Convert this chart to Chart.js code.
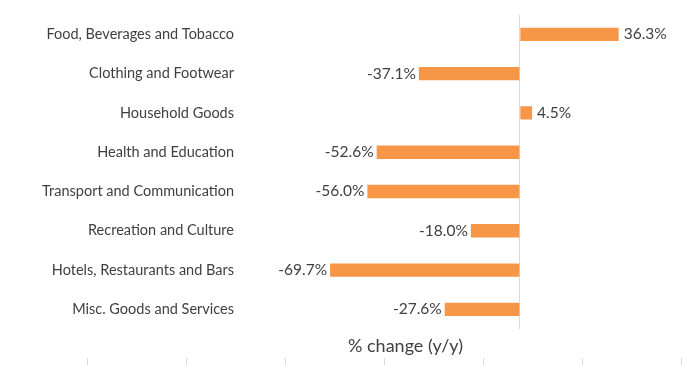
<!DOCTYPE html>
<html>
<head>
<meta charset="utf-8">
<script src="https://cdn.jsdelivr.net/npm/chart.js@4/dist/chart.umd.min.js"></script>
<style>
  html, body { margin: 0; padding: 0; background: #fff; }
  #wrap { width: 683px; height: 365px; }
</style>
</head>
<body>
<div id="wrap"><canvas id="chart" width="683" height="365"></canvas></div>
<script>
const categories = [
  "Food, Beverages and Tobacco",
  "Clothing and Footwear",
  "Household Goods",
  "Health and Education",
  "Transport and Communication",
  "Recreation and Culture",
  "Hotels, Restaurants and Bars",
  "Misc. Goods and Services"
];
const changes = [36.3, -37.1, 4.5, -52.6, -56.0, -18.0, -69.7, -27.6];
const xTitle = "% change (y/y)";

const textColor = "#404040";
const fontFamily = "Lato, 'Open Sans', sans-serif";

// labels at the end of each bar + axis title placed off-centre like the original
const barLabels = {
  id: "barLabels",
  afterDatasetsDraw(chart) {
    const ctx = chart.ctx;
    const meta = chart.getDatasetMeta(0);
    ctx.save();
    ctx.font = "15.5px " + fontFamily;
    ctx.fillStyle = textColor;
    ctx.textBaseline = "middle";
    meta.data.forEach((bar, i) => {
      const v = changes[i];
      const txt = v.toFixed(1) + "%";
      if (v >= 0) {
        ctx.textAlign = "left";
        ctx.fillText(txt, bar.x + 5, bar.y);
      } else {
        ctx.textAlign = "right";
        ctx.fillText(txt, bar.x - 3, bar.y);
      }
    });

    const x = chart.scales.x;
    ctx.font = "18px " + fontFamily;
    ctx.textAlign = "center";
    ctx.fillText(xTitle, x.getPixelForValue(-42), x.top + 17);
    ctx.restore();
  }
};

const ctx = document.getElementById("chart").getContext("2d");
new Chart(ctx, {
  type: "bar",
  data: {
    labels: categories,
    datasets: [{
      data: changes,
      backgroundColor: "#F79646",
      borderWidth: 0,
      barPercentage: 0.34,
      categoryPercentage: 1
    }]
  },
  options: {
    indexAxis: "y",
    responsive: false,
    animation: false,
    layout: {
      padding: { top: 11, left: 87, right: 2, bottom: 0 }
    },
    scales: {
      x: {
        min: -159,
        max: 59.2,
        weight: 0,
        afterBuildTicks: (scale) => { scale.ticks = [{ value: 0 }]; },
        border: { display: false },
        grid: { color: "#d9d9d9", drawTicks: false },
        ticks: { display: false },
        title: {
          display: true,
          text: xTitle,
          color: "rgba(0,0,0,0)",
          font: { family: fontFamily, size: 15 },
          padding: { top: 5.5, bottom: 5.5 }
        }
      },
      x2: {
        type: "linear",
        position: "bottom",
        axis: "x",
        weight: 1,
        min: 0,
        max: 6,
        border: { display: false },
        grid: { drawOnChartArea: false, drawTicks: true, tickLength: 7, color: "#d9d9d9" },
        ticks: { display: false, stepSize: 1 }
      },
      y: {
        position: { x: -105 },
        border: { display: false },
        grid: { display: false },
        ticks: {
          color: textColor,
          padding: 6,
          font: { family: fontFamily, size: 14.5 }
        }
      }
    },
    plugins: {
      legend: { display: false },
      tooltip: { enabled: false }
    }
  },
  plugins: [barLabels]
});
</script>
</body>
</html>
